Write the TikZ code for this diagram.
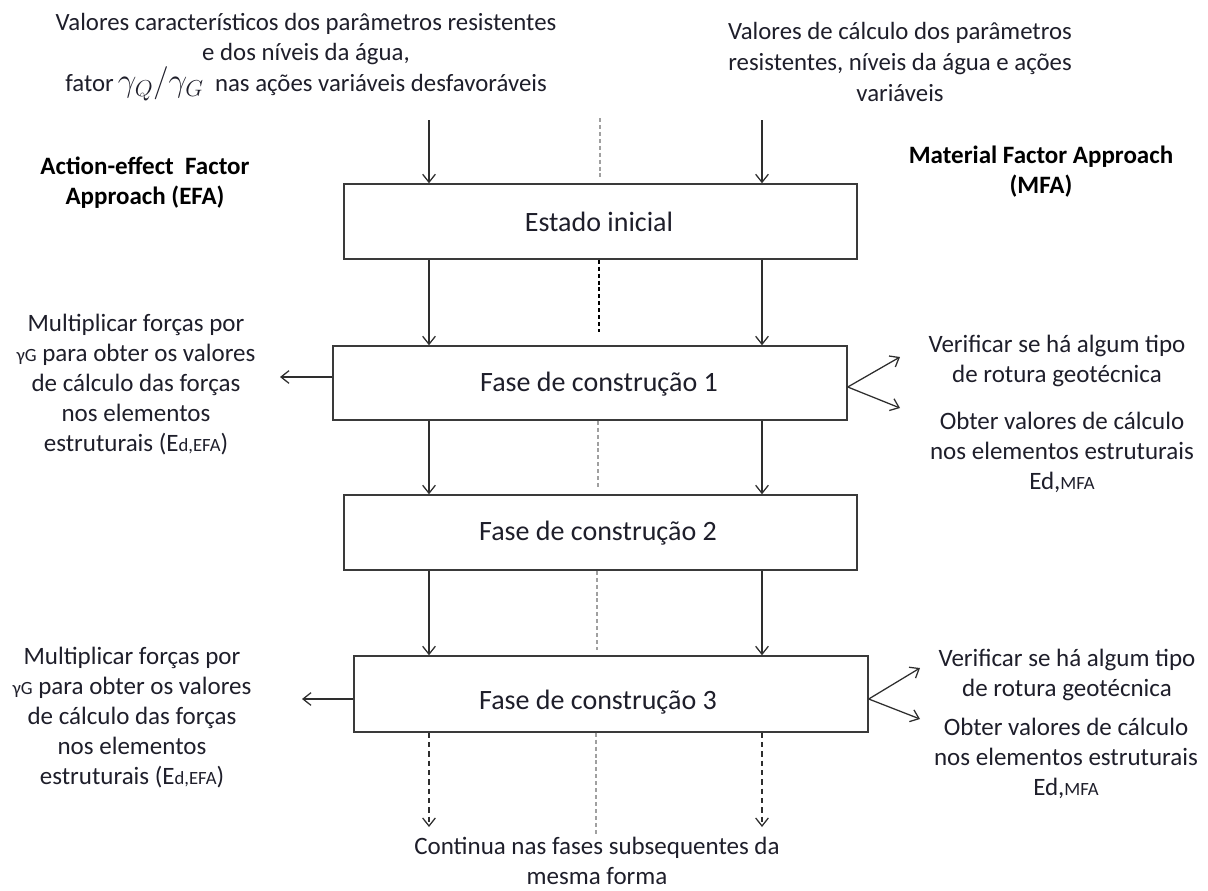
\documentclass[tikz,border=0pt]{standalone}
\usepackage{fontspec}
\setmainfont{Carlito}
\usetikzlibrary{arrows.meta,calc}
\definecolor{txt}{HTML}{1E1E2A}
\definecolor{boxc}{HTML}{3A3A3A}
\definecolor{arrc}{HTML}{2E2E2E}
\definecolor{cgray}{HTML}{A0A0A0}
\newcommand{\sidefont}{\fontsize{18.75}{22.5}\selectfont}
\newcommand{\topfont}{\fontsize{18.6}{23}\selectfont}
\newcommand{\boxfont}{\fontsize{21}{25}\selectfont}
\newcommand{\smallpart}{\fontsize{14}{16}\selectfont}
\newcommand{\mathpart}{\fontsize{23.5}{23}\selectfont}
\begin{document}
\begin{tikzpicture}[x=0.75pt,y=-0.75pt,
  stagebox/.style={draw=boxc,line width=1.1pt,inner sep=0pt,fill=white},
  boxlabel/.style={text=txt,font=\boxfont,inner sep=0pt},
  sidetext/.style={text=txt,font=\sidefont,align=center,inner sep=0pt},
  toptext/.style={text=txt,font=\topfont,align=center,inner sep=0pt},
  heading/.style={text=black,font=\sidefont\bfseries,align=center,inner sep=0pt},
  arr/.style={draw=arrc,line width=0.95pt,-{Straight Barb[length=6pt,width=9.5pt,line width=0.95pt]}},
  darr/.style={arr,dash pattern=on 4pt off 3pt},
  cdash/.style={draw=cgray,line width=0.9pt,dash pattern=on 3pt off 2.2pt},
  cdashb/.style={draw=black,line width=0.9pt,dash pattern=on 3pt off 2.2pt}]
\useasboundingbox (0,0) rectangle (1208,890);

% boxes
\node[stagebox,minimum width=384.75pt,minimum height=56.25pt] (b1) at (600.5,221.5) {};
\node[stagebox,minimum width=385.5pt,minimum height=55.5pt] (b2) at (590,383) {};
\node[stagebox,minimum width=384.75pt,minimum height=56.25pt] (b3) at (600.5,532.5) {};
\node[stagebox,minimum width=385.5pt,minimum height=57pt] (b4) at (611,694) {};

\node[boxlabel] (t1) at (599,222) {Estado inicial};
\node[boxlabel] (t2) at (599,384) {Fase de construção 1};
\node[boxlabel] (t3) at (598,533) {Fase de construção 2};
\node[boxlabel] (t4) at (598,702) {Fase de construção 3};

% columns
\coordinate (cl) at (429,120);
\coordinate (cr) at (762,120);
\coordinate (bl) at (429,827);
\coordinate (br) at (762,827);

\draw[arr] (cl) -- (cl |- b1.north);
\draw[arr] (cr) -- (cr |- b1.north);
\draw[arr] (b1.south -| cl) -- (b2.north -| cl);
\draw[arr] (b1.south -| cr) -- (b2.north -| cr);
\draw[arr] (b2.south -| cl) -- (b3.north -| cl);
\draw[arr] (b2.south -| cr) -- (b3.north -| cr);
\draw[arr] (b3.south -| cl) -- (b4.north -| cl);
\draw[arr] (b3.south -| cr) -- (b4.north -| cr);
\draw[darr] (b4.south -| bl) -- (bl);
\draw[darr] (b4.south -| br) -- (br);

% centre dashed line
\coordinate (c1a) at (600,118);
\coordinate (c1b) at (600,180);
\coordinate (c2) at (599,332);
\coordinate (c3) at (598,488);
\coordinate (c4) at (597,650);
\coordinate (c5) at (596,834);
\draw[cdash] (c1a) -- (c1b);
\draw[cdashb] (b1.south -| c2) -- (c2);
\draw[cdash] (b2.south -| c3) -- (c3);
\draw[cdash] (b3.south -| c4) -- (c4);
\draw[cdash] (b4.south -| c5) -- (c5);

% side arrows
\coordinate (l1) at (280,377);
\coordinate (l2) at (302,699);
\draw[arr] (b2.west |- l1) -- (l1);
\draw[arr] (b4.west |- l2) -- (l2);
\coordinate (f1o) at ($(b2.east)+(0,4)$);
\coordinate (f1a) at (900,357);
\coordinate (f1b) at (900,408);
\draw[arr] (f1o) -- (f1a);
\draw[arr] (f1o) -- (f1b);
\coordinate (f2o) at ($(b4.east)+(0,5)$);
\coordinate (f2a) at (920,668);
\coordinate (f2b) at (920,719);
\draw[arr] (f2o) -- (f2a);
\draw[arr] (f2o) -- (f2b);

% texts
\node[toptext] (topl) at (306,57) {Valores característicos dos parâmetros resistentes\\e dos níveis da água,\\fator\,{\mathpart$\gamma_Q/\gamma_G$}\ \ nas ações variáveis desfavoráveis};
\node[toptext] (topr) at (900,62) {Valores de cálculo dos parâmetros\\resistentes, níveis da água e ações\\variáveis};
\node[heading] (hl) at (145,183) {Action-effect\ \ Factor\\Approach (EFA)};
\node[heading] (hr) at (1041,172) {Material Factor Approach\\(MFA)};

\node[sidetext] (sl1) at (136,385) {Multiplicar forças por\\{\smallpart γG} para obter os valores\\de cálculo das forças\\nos elementos\\estruturais (E{\smallpart d,EFA})};
\node[sidetext] (sl2) at (132,718) {Multiplicar forças por\\{\smallpart γG} para obter os valores\\de cálculo das forças\\nos elementos\\estruturais (E{\smallpart d,EFA})};

\node[sidetext] (sr1a) at (1057,361) {Verificar se há algum tipo\\de rotura geotécnica};
\node[sidetext] (sr1b) at (1062,452) {Obter valores de cálculo\\nos elementos estruturais\\Ed,{\smallpart MFA}};
\node[sidetext] (sr2a) at (1067,675) {Verificar se há algum tipo\\de rotura geotécnica};
\node[sidetext] (sr2b) at (1066,758) {Obter valores de cálculo\\nos elementos estruturais\\Ed,{\smallpart MFA}};

\node[sidetext] (bottom) at (597,861) {Continua nas fases subsequentes da\\mesma forma};
\end{tikzpicture}
\end{document}
